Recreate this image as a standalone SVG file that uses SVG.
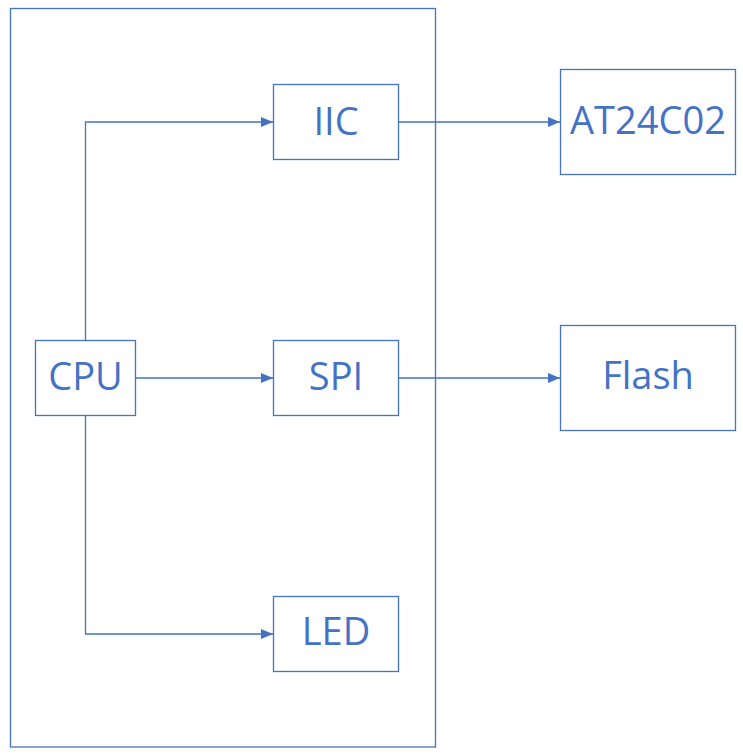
<svg xmlns="http://www.w3.org/2000/svg" width="743" height="755" viewBox="0 0 743 755">
<style>
.box{fill:#fff;stroke:#4472C4;stroke-width:1.3}
.frame{fill:none;stroke:#4472C4;stroke-width:1.3}
.lbl{font-family:"Open Sans","Liberation Sans",sans-serif;font-size:38px;fill:#4472C4;text-anchor:middle}
.conn{fill:none;stroke:#4472C4;stroke-width:1.3}
</style>
<defs>
<marker id="arr" viewBox="0 0 12 10" refX="12" refY="5" markerWidth="12" markerHeight="10" markerUnits="userSpaceOnUse" orient="auto">
<path d="M0,0 L12,5 L0,10 Z" fill="#4472C4"/>
</marker>
</defs>
<rect id="frame" class="frame" x="10.5" y="8.5" width="425" height="738.5"/>
<g id="connectors">
<path class="conn" d="M85.5,340.5 V122 H273" marker-end="url(#arr)"/>
<path class="conn" d="M135.5,378 H273" marker-end="url(#arr)"/>
<path class="conn" d="M85.5,415.5 V634 H273" marker-end="url(#arr)"/>
<path class="conn" d="M398.5,122 H560" marker-end="url(#arr)"/>
<path class="conn" d="M398.5,378 H560" marker-end="url(#arr)"/>
</g>
<g id="cpu"><rect class="box" x="35.5" y="340.5" width="100" height="75"/><text class="lbl" x="85.5" y="390">CPU</text></g>
<g id="iic"><rect class="box" x="273.5" y="84.5" width="125" height="75"/><text class="lbl" x="336" y="135">IIC</text></g>
<g id="spi"><rect class="box" x="273.5" y="340.5" width="125" height="75"/><text class="lbl" x="336" y="390">SPI</text></g>
<g id="led"><rect class="box" x="273.5" y="596.5" width="125" height="75"/><text class="lbl" x="336" y="645">LED</text></g>
<g id="at24c02"><rect class="box" x="560.5" y="69.5" width="175" height="105"/><text class="lbl" x="648" y="134">AT24C02</text></g>
<g id="flash"><rect class="box" x="560.5" y="325.5" width="175" height="105"/><text class="lbl" x="648" y="389">Flash</text></g>
</svg>
